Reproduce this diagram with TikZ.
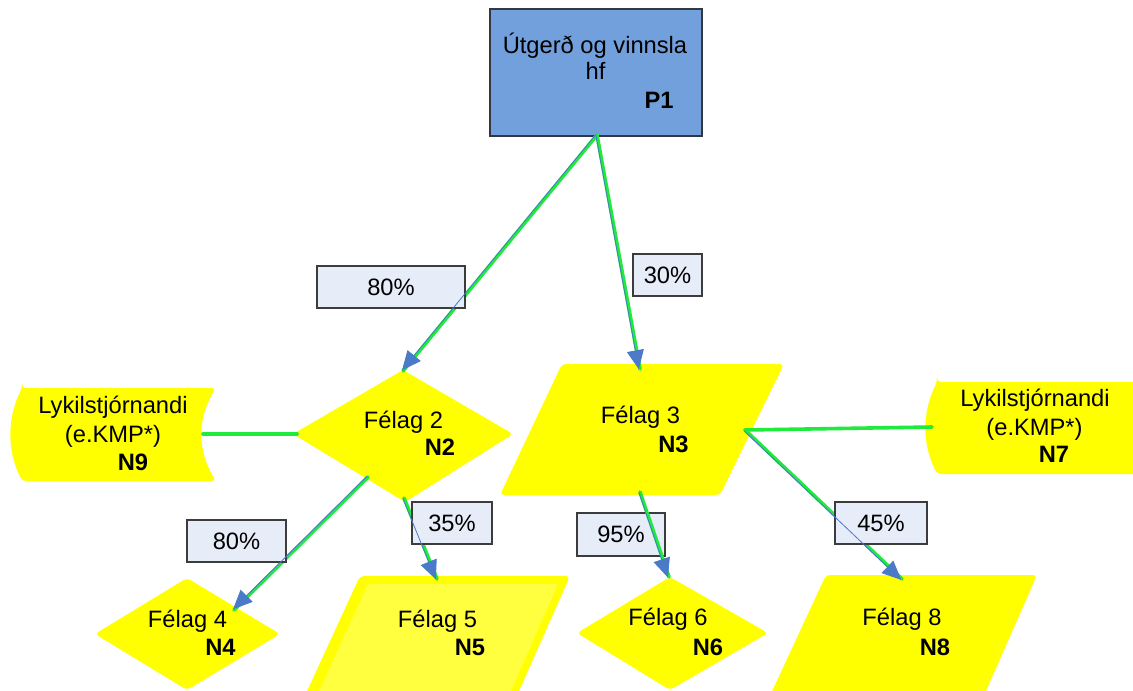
\documentclass[tikz,border=0pt]{standalone}
\usepackage{fontspec}
\setmainfont{Liberation Sans}
\usetikzlibrary{arrows.meta,calc}
\definecolor{pblue}{RGB}{114,160,220}
\definecolor{pborder}{RGB}{50,55,65}
\definecolor{yel}{RGB}{255,255,0}
\definecolor{yellight}{RGB}{255,255,64}
\definecolor{lblfill}{RGB}{230,236,248}
\definecolor{lblborder}{RGB}{60,60,60}
\definecolor{lgreen}{RGB}{30,235,60}
\definecolor{ablue}{RGB}{74,122,200}
\begin{document}
\begin{tikzpicture}[x=1pt,y=-1pt,
  shp/.style={fill=yel,draw=none,rounded corners=4pt},
  txt/.style={anchor=base,inner sep=0pt,font=\fontsize{23.7}{26}\selectfont},
  btxt/.style={anchor=base,inner sep=0pt,font=\fontsize{23.7}{26}\selectfont\bfseries},
  lbl/.style={draw=lblborder,fill=lblfill,line width=1.2pt,inner sep=0pt,font=\fontsize{23.7}{26}\selectfont},
  gline/.style={draw=lgreen,line width=3.6pt,line cap=round},
  barrow/.style={draw=ablue,line width=0.8pt,-{Triangle[length=19pt,width=17pt]}}
]
\useasboundingbox (0,0) rectangle (1133,691);
\fill[white] (0,0) rectangle (1133,691);

% ---------- shapes ----------
% P1
\draw[fill=pblue,draw=pborder,line width=1.2pt] (490,9) rectangle (702,136);
% N9 (key manager, left)
\path[shp] (22,388) -- (216,388) .. controls (197,419) and (197,450) .. (216,481)
  -- (22,481) .. controls (7,450) and (7,419) .. (22,388) -- cycle;
% N7 (key manager, right)
\path[shp] (937,382) -- (1145,382) -- (1145,474) -- (937,474)
  .. controls (922,443) and (922,413) .. (937,382) -- cycle;
% N2 diamond
\path[shp] (403,370) -- (513,434) -- (405,502) -- (293,434) -- cycle;
% N3 parallelogram
\path[shp] (562,364) -- (784,364) -- (720,495) -- (500,495) -- cycle;
% N4 diamond
\path[shp] (187,578) -- (280,634) -- (187,690) -- (95,634) -- cycle;
% N5 parallelogram with light inner area
\path[shp] (360,576) -- (570,576) -- (515,700) -- (303,700) -- cycle;
\path[fill=yellight,rounded corners=2pt] (368,584) -- (558,584) -- (507,700) -- (315,700) -- cycle;
% N6 diamond
\path[shp] (670,577) -- (768,633) -- (670,690) -- (577,633) -- cycle;
% N8 parallelogram
\path[shp] (826,575) -- (1037,575) -- (982,700) -- (768,700) -- cycle;

% ---------- connector end points ----------
\coordinate (p1b) at (597,135);
\coordinate (n2t) at (403,371);
\coordinate (n3t) at (640,369);
\coordinate (n2l) at (297,434);
\coordinate (n9r) at (203,434);
\coordinate (n2bl) at (368,477);
\coordinate (n2b) at (404,498);
\coordinate (n4t) at (234,610);
\coordinate (n5t) at (437,579);
\coordinate (n3b) at (640,492);
\coordinate (n6t) at (669,577);
\coordinate (n3r) at (745,430);
\coordinate (n8t) at (902,579);
\coordinate (n7l) at (932,427);

% label that lies under the green line
\node[lbl,minimum width=88pt,minimum height=43pt] (l5) at (621,534.5) {95\%};

% ---------- green lines ----------
\draw[gline] (p1b) -- (n2t);
\draw[gline] (p1b) -- (n3t);
\draw[gline] (n9r) -- (n2l);
\draw[gline] (n2bl) -- (n4t);
\draw[gline] (n2b) -- (n5t);
\draw[gline] (n3b) -- (n6t);
\draw[gline] (n3r) -- (n8t);
\draw[gline] (n3r) -- (n7l);

% ---------- percentage labels ----------
\node[lbl,minimum width=148pt,minimum height=42pt] (l1) at (391,287) {80\%};
\node[lbl,minimum width=69pt,minimum height=42pt] (l2) at (667.5,275) {30\%};
\node[lbl,minimum width=99pt,minimum height=42pt] (l3) at (236.5,541) {80\%};
\node[lbl,minimum width=80pt,minimum height=42pt] (l4) at (452,523) {35\%};
\node[lbl,minimum width=92pt,minimum height=42pt] (l6) at (881,523) {45\%};

% ---------- blue arrows ----------
\draw[barrow] ($(p1b)!1.2pt!-90:(n2t)$) -- ($(n2t)!1.2pt!90:(p1b)$);
\draw[barrow] ($(p1b)!1.2pt!-90:(n3t)$) -- ($(n3t)!1.2pt!90:(p1b)$);
\draw[barrow] ($(n2bl)!1.2pt!-90:(n4t)$) -- ($(n4t)!1.2pt!90:(n2bl)$);
\draw[barrow] ($(n2b)!1.2pt!-90:(n5t)$) -- ($(n5t)!1.2pt!90:(n2b)$);
\draw[barrow] ($(n3b)!1.2pt!-90:(n6t)$) -- ($(n6t)!1.2pt!90:(n3b)$);
\draw[barrow] ($(n3r)!1.2pt!-90:(n8t)$) -- ($(n8t)!1.2pt!90:(n3r)$);

% ---------- texts ----------
\node[txt] (p1a) at (595,53) {Útgerð og vinnsla};
\node[txt] (p1c) at (595.5,79) {hf};
\node[btxt] (p1d) at (659,108) {P1};

\node[txt] (n9a) at (113,413) {Lykilstjórnandi};
\node[txt] (n9b) at (113,442) {(e.KMP*)};
\node[btxt] (n9c) at (133,470) {N9};

\node[txt] (n7a) at (1035,406) {Lykilstjórnandi};
\node[txt] (n7b) at (1034.5,435) {(e.KMP*)};
\node[btxt] (n7c) at (1054,462) {N7};

\node[txt] (n2a) at (403.5,428) {Félag 2};
\node[btxt] (n2c) at (440,455) {N2};

\node[txt] (n3a) at (640.5,423) {Félag 3};
\node[btxt] (n3c) at (673.5,452) {N3};

\node[txt] (n4a) at (187.5,627) {Félag 4};
\node[btxt] (n4c) at (220.5,655) {N4};

\node[txt] (n5a) at (437.5,627) {Félag 5};
\node[btxt] (n5c) at (470,655) {N5};

\node[txt] (n6a) at (668,625) {Félag 6};
\node[btxt] (n6c) at (708,655) {N6};

\node[txt] (n8a) at (902,625) {Félag 8};
\node[btxt] (n8c) at (935,655) {N8};
\end{tikzpicture}
\end{document}
